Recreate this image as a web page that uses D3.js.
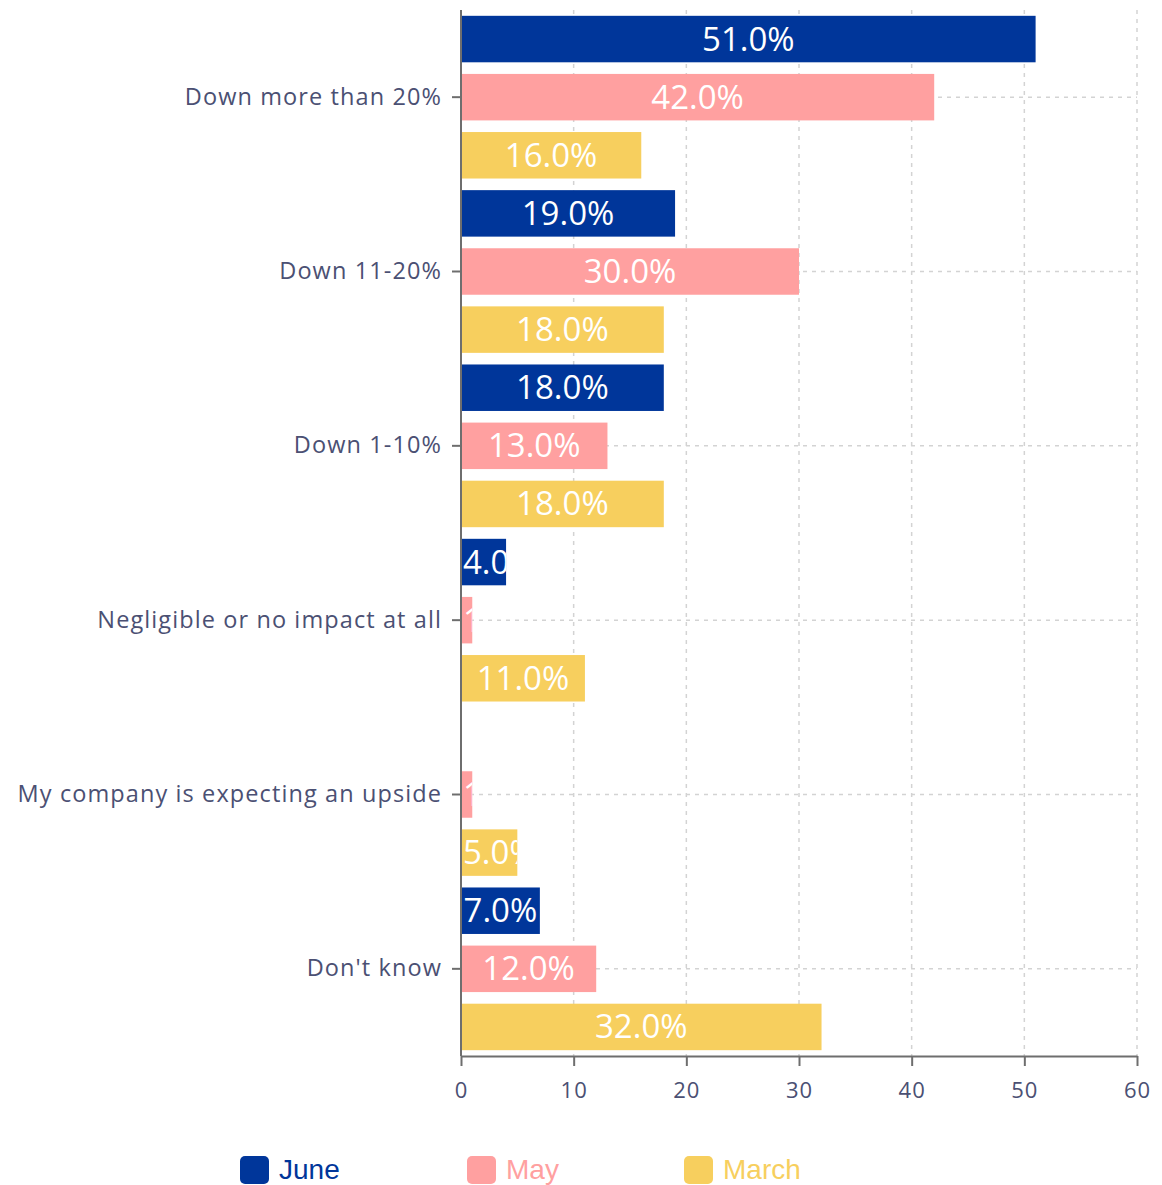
<!DOCTYPE html>
<html>
<head>
<meta charset="utf-8">
<script src="https://cdn.jsdelivr.net/npm/d3@7"></script>
<style>
  html, body { margin: 0; padding: 0; background: #fff; }
  svg { display: block; }
</style>
</head>
<body>
<svg id="chart" width="1162" height="1185"></svg>
<script>
// Survey answers, one group of bars per answer
const categories = [
  "Down more than 20%",
  "Down 11-20%",
  "Down 1-10%",
  "Negligible or no impact at all",
  "My company is expecting an upside",
  "Don't know"
];
const seriesNames = ["June", "May", "March"];
const juneValues  = [51, 19, 18, 4, 0, 7];
const mayValues   = [42, 30, 13, 1, 1, 12];
const marchValues = [16, 18, 18, 11, 5, 32];
const xTicks = [0, 10, 20, 30, 40, 50, 60];

(function () {
const seriesValues = { June: juneValues, May: mayValues, March: marchValues };
const colors = { June: "#00369A", May: "#FFA0A0", March: "#F7CF5E" };

const svg = d3.select("#chart");
const plotLeft = 461, plotRight = 1137, plotTop = 10, plotBottom = 1056;
const textColor = "#4B5073";
const fontFamily = "'Open Sans', 'Noto Sans', sans-serif";

const x = d3.scaleLinear().domain([0, 60]).range([plotLeft, plotRight]);
const y0 = d3.scaleBand().domain(categories).range([plotTop, plotBottom]).padding(0);
const y1 = d3.scaleBand().domain(seriesNames).range([0, y0.bandwidth()])
  .paddingInner(0.2).paddingOuter(0.1);

// Dashed grid
const grid = svg.append("g").attr("stroke", "#d3d3d3").attr("stroke-width", 1.5)
  .attr("stroke-dasharray", "4,5");
xTicks.filter(t => t > 0).forEach(t => {
  grid.append("line").attr("x1", x(t)).attr("x2", x(t)).attr("y1", plotTop).attr("y2", plotBottom);
});
categories.forEach(c => {
  const cy = y0(c) + y0.bandwidth() / 2;
  grid.append("line").attr("x1", plotLeft).attr("x2", plotRight).attr("y1", cy).attr("y2", cy);
});

// Bars with their value labels clipped to the bar
const defs = svg.append("defs");
const rows = [];
categories.forEach((c, ci) => {
  seriesNames.forEach(s => rows.push({ cat: c, ci, series: s, value: seriesValues[s][ci] }));
});

const barG = svg.append("g");
rows.forEach((d, i) => {
  const bx = x(0), by = y0(d.cat) + y1(d.series);
  const bw = x(d.value) - x(0), bh = y1.bandwidth();
  if (bw <= 0) return;
  const id = "clip" + i;
  defs.append("clipPath").attr("id", id)
    .append("rect").attr("x", bx).attr("y", by).attr("width", bw).attr("height", bh);
  barG.append("rect").attr("x", bx).attr("y", by).attr("width", bw).attr("height", bh)
    .attr("fill", colors[d.series]);
  const label = barG.append("text")
    .attr("clip-path", `url(#${id})`)
    .attr("x", bx + bw / 2).attr("y", by + bh / 2 - 1)
    .attr("text-anchor", "middle").attr("dominant-baseline", "central")
    .attr("fill", "#fff").attr("font-family", fontFamily).attr("font-size", 33)
    .attr("font-weight", 400)
    .text(d.value.toFixed(1) + "%");
  // labels wider than their bar start at the bar's left edge
  const tw = label.node().getComputedTextLength();
  if (tw > bw - 4) label.attr("text-anchor", "start").attr("x", bx + 2);
});

// Axes
const axisColor = "#6e6e6e";
const xAxis = svg.append("g").attr("transform", `translate(0,${plotBottom})`)
  .call(d3.axisBottom(x).tickValues(xTicks).tickSize(10).tickSizeOuter(0).tickPadding(16));
const yAxis = svg.append("g").attr("transform", `translate(${plotLeft},0)`)
  .call(d3.axisLeft(y0).tickSize(9).tickSizeOuter(0).tickPadding(10));
[xAxis, yAxis].forEach(a => {
  a.select(".domain").attr("stroke", axisColor).attr("stroke-width", 2);
  a.selectAll(".tick line").attr("stroke", axisColor).attr("stroke-width", 2);
  a.selectAll(".tick text").attr("fill", textColor).attr("font-family", fontFamily)
    .attr("font-size", 22);
});
xAxis.selectAll(".tick text").attr("dy", "0.71em").attr("letter-spacing", 1);
yAxis.selectAll(".tick text").attr("font-size", 23.5).attr("letter-spacing", 1.1);
yAxis.select(".domain").attr("d", `M0,${plotTop}V${plotBottom}`);

// Legend
const legendX = [240, 467, 684];
const legend = svg.append("g");
seriesNames.forEach((s, i) => {
  const g = legend.append("g").attr("transform", `translate(${legendX[i]},1156)`);
  g.append("rect").attr("width", 29).attr("height", 28).attr("rx", 5).attr("fill", colors[s]);
  g.append("text").attr("x", 39).attr("y", 13).attr("dominant-baseline", "central")
    .attr("fill", colors[s]).attr("font-family", "'Liberation Sans', Arial, sans-serif")
    .attr("font-size", 28).text(s);
});
})();
</script>
</body>
</html>
